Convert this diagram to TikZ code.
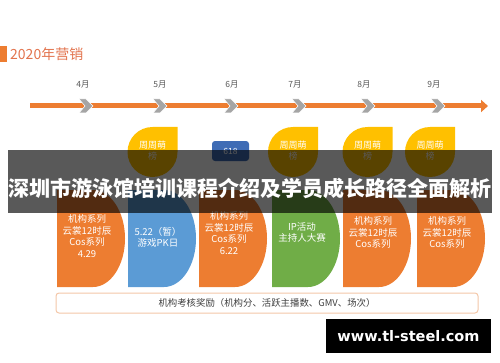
\documentclass[tikz,border=0pt]{standalone}
\usepackage{fontspec}
\setmainfont{Noto Sans CJK SC}
\newfontfamily\wmfont{DejaVu Sans}
\usetikzlibrary{arrows.meta,positioning}

\definecolor{mkorange}{HTML}{ED7D31}
\definecolor{mkblue}{HTML}{5B9BD5}
\definecolor{mkgreen}{HTML}{70AD47}
\definecolor{mkyellow}{HTML}{FFC000}
\definecolor{mkgray}{HTML}{A5A5A5}
\definecolor{mknavy}{HTML}{3F6CB5}
\definecolor{mktitle}{HTML}{E2734D}
\definecolor{mkbox}{HTML}{F4C7A8}

\tikzset{
	month/.style={text=black!65, font=\fontsize{8.5}{10}\selectfont},
	chevron/.style={fill=mkgray, draw=white, line width=0.5pt},
	badge/.style={text=white, font=\fontsize{9}{11}\selectfont, align=center, inner sep=0pt},
	shapetext/.style={text=white, font=\fontsize{9.5}{11.5}\selectfont, align=center, inner sep=0pt},
}

\begin{document}
\begin{tikzpicture}[x=1pt, y=1pt, >=Triangle]
			\useasboundingbox (0,0) rectangle (500,362);
			% heading
			\fill[mkorange] (0,300) rectangle (7,316);
			\node[anchor=west, text=mktitle, inner sep=0pt, font=\fontsize{14}{16}\selectfont] (heading) at (10,308) {2020年营销};
			% timeline
			\coordinate (tl start) at (30,256);
			\coordinate (tl end) at (488,256);
			\draw[mkorange, line width=5pt, -{Triangle[length=7pt,width=12pt]}] (tl start) -- (tl end);
			\foreach \m/\x/\d in {4/86/-3, 5/160/0, 6/231/1, 7/299/-4, 8/368/-4, 9/438/-4}{
				\coordinate (c\m) at (\x,256);
				\fill[chevron] (\x-7,263) -- (\x,263) -- (\x+7,256) -- (\x,249) -- (\x-7,249) -- (\x-1,256) -- cycle;
				\node[month, above=14pt of c\m, xshift=\d pt] (m\m) {{\m}月};
			}
			% weekly ranking
			\foreach \n/\x in {a/152.5, b/293, c/367.5, d/430}{
				\fill[mkyellow] (\x+25,235) -- (\x+25,210) arc[start angle=0, end angle=-270, radius=25] -- cycle;
				\node[badge] (rank\n) at (\x,211.5) {周周萌\\榜};
			}
			\node[fill=mknavy, rounded corners=3pt, minimum width=37pt, minimum height=20pt, text=white, font=\fontsize{8.5}{10}\selectfont] (sale) at (230.5,211) {618};
			% activities
			\foreach \n/\x/\y/\c/\t in {1/57/126/mkorange/{机构系列\\云裳12时辰\\Cos系列\\4.29},
				2/128/124.5/mkblue/{5.22（暂）\\游戏PK日},
				3/199/129/mkorange/{机构系列\\云裳12时辰\\Cos系列\\6.22},
				4/272/129.5/mkgreen/{IP活动\\主持人大赛},
				5/343/129.5/mkorange/{机构系列\\云裳12时辰\\Cos系列},
				6/417/129.5/mkorange/{机构系列\\云裳12时辰\\Cos系列}}{
				\fill[\c] (\x,172) -- (\x+36,172) arc[start angle=90, end angle=-90, x radius=32, y radius=48.5] -- (\x,75) -- cycle;
				\node[shapetext] (act\n) at (\x+30,\y) {\t};
			}
			\node[draw=mkbox, fill=white, line width=1pt, rounded corners=3pt, minimum width=422pt, minimum height=20pt, text=black!75, font=\fontsize{9.4}{11}\selectfont] (reward) at (267,59) {机构考核奖励（机构分、活跃主播数、GMV、场次）};
			% overlay
			\node[fill=black, fill opacity=0.65, minimum width=484pt, minimum height=63pt] (banner) at (250,181) {};
			\node[text=white, font=\fontsize{21}{24}\selectfont\bfseries, inner sep=0pt] (headline) at (250,174) {深圳市游泳馆培训课程介绍及学员成长路径全面解析};
			\node[fill=black, minimum width=165pt, minimum height=34pt, text=white, font=\wmfont\bfseries\fontsize{14.5}{16}\selectfont] (wm) at (408.5,26) {www.tl-steel.com};
		\end{tikzpicture}
\end{document}
